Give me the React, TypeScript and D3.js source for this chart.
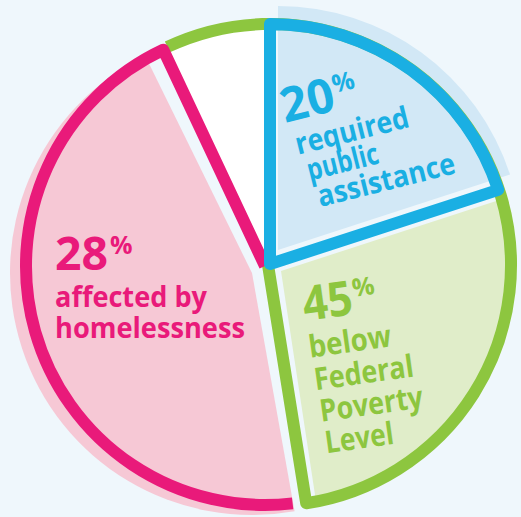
import React from 'react';
import * as d3 from 'd3';

// ---- data ----
const categories = ['required public assistance', 'below Federal Poverty Level', 'affected by homelessness', 'other'];
const shares = [20, 27.6, 45.4, 7]; // angular share of each slice as drawn
const percentLabels = ['20', '45', '28'];
const blueLines = ['required', 'public', 'assistance'];
const greenLines = ['below', 'Federal', 'Poverty', 'Level'];
const pinkLines = ['affected by', 'homelessness'];

const W = 521;
const H = 517;
const BG = '#eff7fc';
const BLUE = '#1aafe3';
const BLUE_FILL = '#d2e8f6';
const GREEN = '#8dc63f';
const GREEN_FILL = '#e0edc9';
const PINK = '#e91a7a';
const PINK_FILL = '#f6c8d5';
const FONT = "'Open Sans', 'Noto Sans', sans-serif";
const SW = 12;

const deg = (d: number) => (d * Math.PI) / 180;

function sector(r: number, a0: number, a1: number) {
  return d3.arc<any>()({ innerRadius: 0, outerRadius: r, startAngle: a0, endAngle: a1 }) as string;
}
function pt(cx: number, cy: number, r: number, a: number): [number, number] {
  return [cx + r * Math.sin(a), cy - r * Math.cos(a)];
}

export default function App() {
  const pie = d3.pie<number>().sort(null).value((d) => d)(shares);
  const [blue, green, pink, white] = pie;

  // main circle
  const cx = 270, cy = 265, R = 241;

  // green outline: arc from white start clockwise round to green end, then to centre
  const gp = d3.path();
  const gs = pt(cx, cy, R, white.startAngle);
  gp.moveTo(gs[0], gs[1]);
  gp.arc(cx, cy, R, white.startAngle - Math.PI / 2, green.endAngle + 2 * Math.PI - Math.PI / 2, false);
  gp.lineTo(cx - 2, cy);

  // pink outline
  const pcx = 265, pcy = 266, pr = 239;
  const pp = d3.path();
  const p0 = pink.startAngle + deg(2);
  const ps = pt(pcx, pcy, pr, p0);
  pp.moveTo(ps[0], ps[1]);
  pp.arc(pcx, pcy, pr, p0 - Math.PI / 2, pink.endAngle - Math.PI / 2, false);
  pp.lineTo(pcx, pcy);

  const bcx = 270, bcy = 264, br = 240;

  return (
    <svg width={W} height={H} style={{ position: 'absolute', left: 0, top: 0 }} xmlns="http://www.w3.org/2000/svg">
      <defs>
        <clipPath id="mainClip">
          <circle cx={cx} cy={cy} r={R} />
        </clipPath>
      </defs>
      <rect x={0} y={0} width={W} height={H} fill={BG} />

      {/* pink fill / shadow */}
      <path d={sector(242, pink.startAngle - deg(1.5), pink.endAngle - deg(1))} transform="translate(252,273)" fill={PINK_FILL} />
      {/* blue fill / shadow */}
      <path d={sector(244, blue.startAngle, blue.endAngle)} transform="translate(278,250)" fill={BLUE_FILL} />
      {/* green fill clipped to circle */}
      <g clipPath="url(#mainClip)">
        <path d={sector(320, green.startAngle, green.endAngle)} transform="translate(281,271)" fill={GREEN_FILL} />
      </g>
      {/* white slice */}
      <path d={sector(R, white.startAngle, white.endAngle)} transform={`translate(268,${cy})`} fill="#ffffff" />

      {/* outlines */}
      <path d={gp.toString()} fill="none" stroke={GREEN} strokeWidth={SW} strokeLinejoin="round" strokeLinecap="butt" />
      <path d={pp.toString()} fill="none" stroke={PINK} strokeWidth={SW} strokeLinejoin="round" strokeLinecap="butt" />
      <path d={sector(br, blue.startAngle, blue.endAngle)} transform={`translate(${bcx},${bcy})`} fill="none" stroke={BLUE} strokeWidth={SW} strokeLinejoin="round" />

      {/* blue label */}
      <g transform="translate(285,123) rotate(-14)" fill={BLUE} fontFamily={FONT} fontWeight={700}>
        <text x={0} y={0} fontSize={48} textLength={54} lengthAdjust="spacingAndGlyphs">{percentLabels[0]}</text>
        <text x={55} y={-17} fontSize={25}>%</text>
        {blueLines.map((t, i) => (
          <text key={t} x={[5, 10, 14][i]} y={[34, 62, 90][i]} fontSize={30} textLength={[116, 73, 141][i]} lengthAdjust="spacingAndGlyphs">{t}</text>
        ))}
      </g>

      {/* green label */}
      <g transform="translate(305,321) rotate(-8)" fill={GREEN} fontFamily={FONT} fontWeight={700}>
        <text x={0} y={0} fontSize={48} textLength={50} lengthAdjust="spacingAndGlyphs">{percentLabels[1]}</text>
        <text x={51} y={-17} fontSize={25}>%</text>
        {greenLines.map((t, i) => (
          <text key={t} x={[0, 1, 2, 3][i]} y={[37, 70, 102, 134][i]} fontSize={31} textLength={[83, 100, 104, 69][i]} lengthAdjust="spacingAndGlyphs">{t}</text>
        ))}
      </g>

      {/* pink label */}
      <g fill={PINK} fontFamily={FONT} fontWeight={700}>
        <text x={55} y={270} fontSize={46} textLength={53} lengthAdjust="spacingAndGlyphs">{percentLabels[2]}</text>
        <text x={110} y={254} fontSize={25}>%</text>
        {pinkLines.map((t, i) => (
          <text key={t} x={55} y={[307, 338][i]} fontSize={29} textLength={[152, 190][i]} lengthAdjust="spacingAndGlyphs">{t}</text>
        ))}
      </g>
      <title>{categories.join(', ')}</title>
    </svg>
  );
}
